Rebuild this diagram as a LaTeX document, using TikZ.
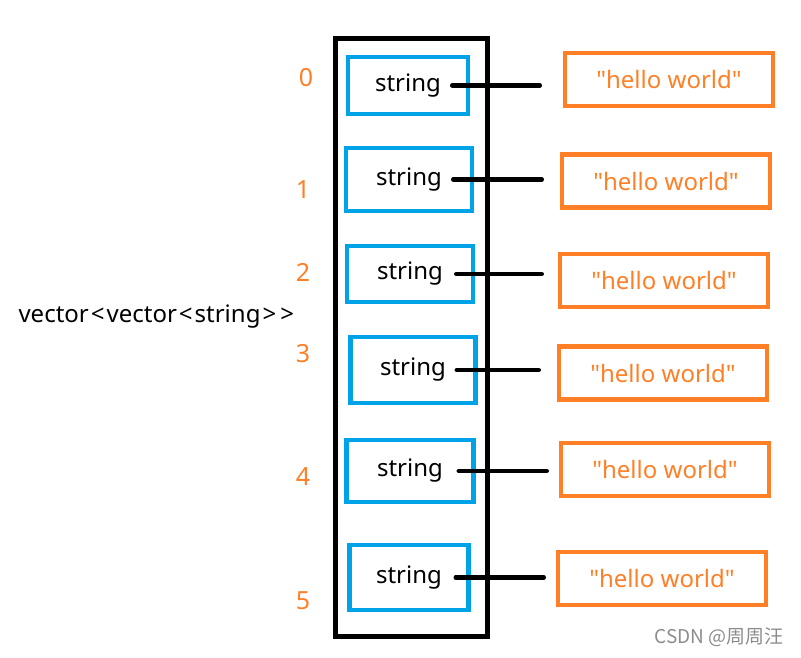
\documentclass[tikz,border=0pt]{standalone}
\usepackage{fontspec}
\setmainfont{Noto Sans}
\newfontfamily\cjkfont{Noto Sans CJK SC}
\usepackage{xcolor}
\usepackage{tikz}
\usetikzlibrary{positioning, calc}
\definecolor{vecblue}{RGB}{0,162,232}
\definecolor{vecorange}{RGB}{255,127,39}
\definecolor{markgray}{RGB}{140,140,140}

\newcommand{\hw}{\textquotedbl hello world\textquotedbl}
\newcommand{\ab}[1]{\hspace{2pt}#1\hspace{2pt}}

\tikzset{
  strbox/.style={draw=vecblue, line width=4.5pt, minimum width=#1, inner sep=0pt,
    font=\fontsize{24}{28}\selectfont},
  valbox/.style={draw=vecorange, line width=4.5pt, minimum width=208pt, minimum height=53pt,
    inner sep=0pt, text=vecorange, font=\fontsize{24}{28}\selectfont},
  idx/.style={text=vecorange, font=\fontsize{25}{30}\selectfont},
  link/.style={line width=4.5pt, line cap=round}
}

\begin{document}
\begin{tikzpicture}[x=1pt, y=-1pt]
\useasboundingbox (0,0) rectangle (801,657);

% Outer vector
\node[draw, line width=5pt, minimum width=152pt, minimum height=598pt, inner sep=0pt] (vec) at (411,337) {};
\node[anchor=west, font=\fontsize{24}{28}\selectfont] (vname) at (15,317) {vector\ab{<}vector\ab{<}string\ab{>}\ab{>}};

% Indices
\node[idx] (i0) at (306,78) {0};
\node[idx] (i1) at (303,190) {1};
\node[idx] (i2) at (303,272) {2};
\node[idx] (i3) at (303,354) {3};
\node[idx] (i4) at (303,477) {4};
\node[idx] (i5) at (303,601) {5};

% Strings
\node[strbox=120pt, minimum height=57pt] (s0) at (408,85.5) {string};
\node[strbox=126pt, minimum height=63pt] (s1) at (409,179.5) {string};
\node[strbox=126pt, minimum height=56pt] (s2) at (410,274) {string};
\node[strbox=125pt, minimum height=66pt] (s3) at (413,370) {string};
\node[strbox=127pt, minimum height=62pt] (s4) at (410,471) {string};
\node[strbox=119pt, minimum height=65pt] (s5) at (409,577.5) {string};

% Values
\node[valbox] (h0) at (669,79.5) {\hw};
\node[valbox] (h1) at (666,181) {\hw};
\node[valbox] (h2) at (664,280.5) {\hw};
\node[valbox] (h3) at (663,373) {\hw};
\node[valbox] (h4) at (665,469.5) {\hw};
\node[valbox] (h5) at (662,578.5) {\hw};

% Links
\draw[link] ([xshift=-18pt]s0.east) -- ([xshift=-23pt]s0.east -| h0.west);
\draw[link] ([xshift=-21pt]s1.east) -- ([xshift=-18pt]s1.east -| h1.west);
\draw[link] ([xshift=-19pt]s2.east) -- ([xshift=-16pt]s2.east -| h2.west);
\draw[link] ([xshift=-21pt]s3.east) -- ([xshift=-18pt]s3.east -| h3.west);
\draw[link] ([xshift=-17pt]s4.east) -- ([xshift=-12pt]s4.east -| h4.west);
\draw[link] ([xshift=-15pt]s5.east) -- ([xshift=-12pt]s5.east -| h5.west);

% Watermark
\node[anchor=east, text=markgray, font=\cjkfont\fontsize{19}{22}\selectfont] (mark) at (787,637) {CSDN @周周汪};
\end{tikzpicture}
\end{document}
